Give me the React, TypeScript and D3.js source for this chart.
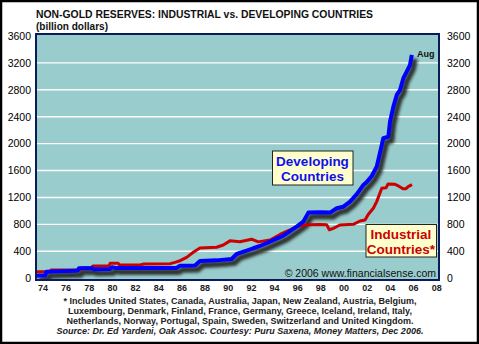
import React from "react";
import * as d3 from "d3";

const yTicks = [0, 400, 800, 1200, 1600, 2000, 2400, 2800, 3200, 3600];
const xTickYears = [1974, 1976, 1978, 1980, 1982, 1984, 1986, 1988, 1990, 1992, 1994, 1996, 1998, 2000, 2002, 2004, 2006, 2008];
const xTickLabels = ["74", "76", "78", "80", "82", "84", "86", "88", "90", "92", "94", "96", "98", "00", "02", "04", "06", "08"];

const industrialYears = [1973.4, 1974.6, 1974.7, 1977.2, 1977.3, 1978.2, 1978.3, 1979.7, 1979.8, 1980.5, 1980.6, 1982.4, 1982.7, 1985.0, 1985.4, 1985.84, 1986.41, 1986.98, 1987.56, 1989.0, 1989.57, 1990.15, 1991.01, 1992.02, 1992.59, 1993.61, 1994.47, 1995.33, 1995.91, 1996.78, 1997.92, 1998.5, 1998.73, 1999.07, 1999.65, 2000.8, 2001.38, 2001.81, 2002.1, 2002.53, 2002.82, 2003.26, 2003.63, 2003.8, 2004.4, 2004.66, 2005.09, 2005.35, 2005.57, 2005.87];
const industrialValues = [95, 95, 122, 122, 156, 156, 181, 181, 221, 221, 196, 196, 211, 216, 236, 260, 310, 385, 450, 460, 494, 555, 543, 580, 540, 568, 650, 717, 770, 795, 800, 795, 720, 742, 791, 801, 850, 865, 950, 1039, 1138, 1337, 1345, 1400, 1395, 1375, 1330, 1330, 1365, 1390];

const developingYears = [1973.4, 1973.75, 1974.2, 1974.3, 1976.86, 1977.0, 1977.11, 1978.32, 1978.4, 1979.79, 1979.96, 1980.39, 1985.49, 1985.84, 1987.13, 1987.56, 1989.0, 1990.29, 1990.73, 1991.59, 1992.16, 1992.74, 1993.61, 1994.76, 1995.91, 1996.48, 1996.92, 1997.92, 1998.79, 1999.37, 1999.94, 2000.52, 2001.1, 2001.67, 2001.96, 2002.39, 2002.82, 2003.11, 2003.39, 2003.83, 2003.97, 2004.26, 2004.55, 2004.84, 2005.12, 2005.41, 2005.7, 2005.85];
const developingValues = [35, 40, 40, 97, 112, 112, 147, 147, 132, 135, 162, 150, 150, 185, 190, 256, 265, 286, 360, 409, 445, 479, 543, 632, 766, 840, 975, 980, 975, 1039, 1063, 1138, 1250, 1386, 1430, 1520, 1658, 1870, 2080, 2104, 2327, 2550, 2724, 2799, 2973, 3071, 3170, 3320];

const footLines = [
  "* Includes United States, Canada, Australia, Japan, New Zealand, Austria, Belgium,",
  "Luxembourg, Denmark, Finland, France, Germany, Greece, Iceland, Ireland, Italy,",
  "Netherlands, Norway, Portugal, Spain, Sweden, Switzerland and United Kingdom.",
];
const sourceLine = "Source: Dr. Ed Yardeni, Oak Assoc. Courtesy: Puru Saxena, Money Matters, Dec 2006.";

const W = 479;
const H = 344;
const plot = { left: 36, right: 439, top: 34, bottom: 280 };

export default function App() {
  const x = d3.scaleLinear().domain([1973.4, 2008.2]).range([plot.left, plot.right]);
  const y = d3.scaleLinear().domain([0, 3600]).range([278.2, 36]);

  const ind = industrialYears.map((yr, i) => [yr, industrialValues[i]] as [number, number]);
  const dev = developingYears.map((yr, i) => [yr, developingValues[i]] as [number, number]);

  const line = d3
    .line<[number, number]>()
    .x((d) => x(d[0]))
    .y((d) => y(d[1]));

  const font = "'Liberation Sans', Arial, sans-serif";

  return (
    <div style={{ position: "absolute", left: 0, top: 0 }}>
      <svg width={W} height={H} style={{ display: "block" }} fontFamily={font}>
        <defs>
          <filter id="blur" x="-10%" y="-10%" width="120%" height="120%">
            <feGaussianBlur stdDeviation="1.4" />
          </filter>
          <clipPath id="clip">
            <rect x={plot.left} y={plot.top} width={plot.right - plot.left} height={plot.bottom - plot.top} />
          </clipPath>
        </defs>
        <rect x={0} y={0} width={W} height={H} fill="#fff" />
        <rect x={1} y={1} width={W - 2} height={H - 2} fill="none" stroke="#000" strokeWidth={2.5} />

        <text x={36} y={17.5} fontSize={11.5} fontWeight="bold" fill="#111" textLength={337} lengthAdjust="spacingAndGlyphs">
          NON-GOLD RESERVES: INDUSTRIAL vs. DEVELOPING COUNTRIES
        </text>
        <text x={36} y={30} fontSize={10.5} fontWeight="bold" fill="#111" textLength={72} lengthAdjust="spacingAndGlyphs">
          (billion dollars)
        </text>

        <rect x={plot.left} y={plot.top} width={plot.right - plot.left} height={plot.bottom - plot.top} fill="#99cccc" />

        {yTicks.slice(1, -1).map((t) => (
          <line key={t} x1={plot.left} x2={plot.right} y1={y(t)} y2={y(t)} stroke="#fff" strokeWidth={1.4} />
        ))}

        <g clipPath="url(#clip)">
          <path d={line(dev) || ""} fill="none" stroke="#222" strokeWidth={6} transform="translate(3,4)" filter="url(#blur)" opacity={0.9} />
          <path d={line(ind) || ""} fill="none" stroke="#cc0000" strokeWidth={3} strokeLinejoin="round" />
          <path d={line(dev) || ""} fill="none" stroke="#0000ff" strokeWidth={4} strokeLinejoin="round" />
        </g>

        <rect x={plot.left} y={plot.top} width={plot.right - plot.left} height={plot.bottom - plot.top} fill="none" stroke="#0b1a5a" strokeWidth={2} />

        {yTicks.map((t) => (
          <g key={t}>
            <text x={31} y={y(t)} dy="0.36em" fontSize={10.5} textAnchor="end" fill="#000">{t}</text>
            <text x={447} y={y(t)} dy="0.36em" fontSize={10.5} textAnchor="start" fill="#000">{t}</text>
          </g>
        ))}

        {xTickYears.map((yr, i) => (
          <text key={yr} x={x(yr)} y={291} fontSize={9} fontWeight="bold" textAnchor="middle" fill="#222">
            {xTickLabels[i]}
          </text>
        ))}

        <text x={417} y={57} fontSize={9} fontWeight="bold" fill="#111">Aug</text>

        <rect x={272.5} y={151} width={80.5} height={34} fill="#ffffcc" stroke="#222" strokeWidth={1} />
        <text x={312.5} y={166} fontSize={13.5} fontWeight="bold" fill="#1010ee" textAnchor="middle">Developing</text>
        <text x={312.5} y={181} fontSize={13.5} fontWeight="bold" fill="#1010ee" textAnchor="middle">Countries</text>

        <rect x={366} y={224.5} width={70.5} height={32.5} fill="#ffffcc" stroke="#222" strokeWidth={1} />
        <text x={401} y={239} fontSize={13.5} fontWeight="bold" fill="#cc0000" textAnchor="middle">Industrial</text>
        <text x={401} y={254} fontSize={13.5} fontWeight="bold" fill="#cc0000" textAnchor="middle">Countries*</text>

        <text x={436} y={276.5} fontSize={10.5} fill="#111" textAnchor="end">
          © 2006 www.financialsense.com
        </text>

        {footLines.map((ln, i) => (
          <text key={i} x={240} y={303.5 + i * 10} fontSize={9} fontWeight="bold" fill="#222" textAnchor="middle">
            {ln}
          </text>
        ))}
        <text x={240} y={333.5} fontSize={9} fontWeight="bold" fontStyle="italic" fill="#222" textAnchor="middle">
          {sourceLine}
        </text>
      </svg>
    </div>
  );
}
